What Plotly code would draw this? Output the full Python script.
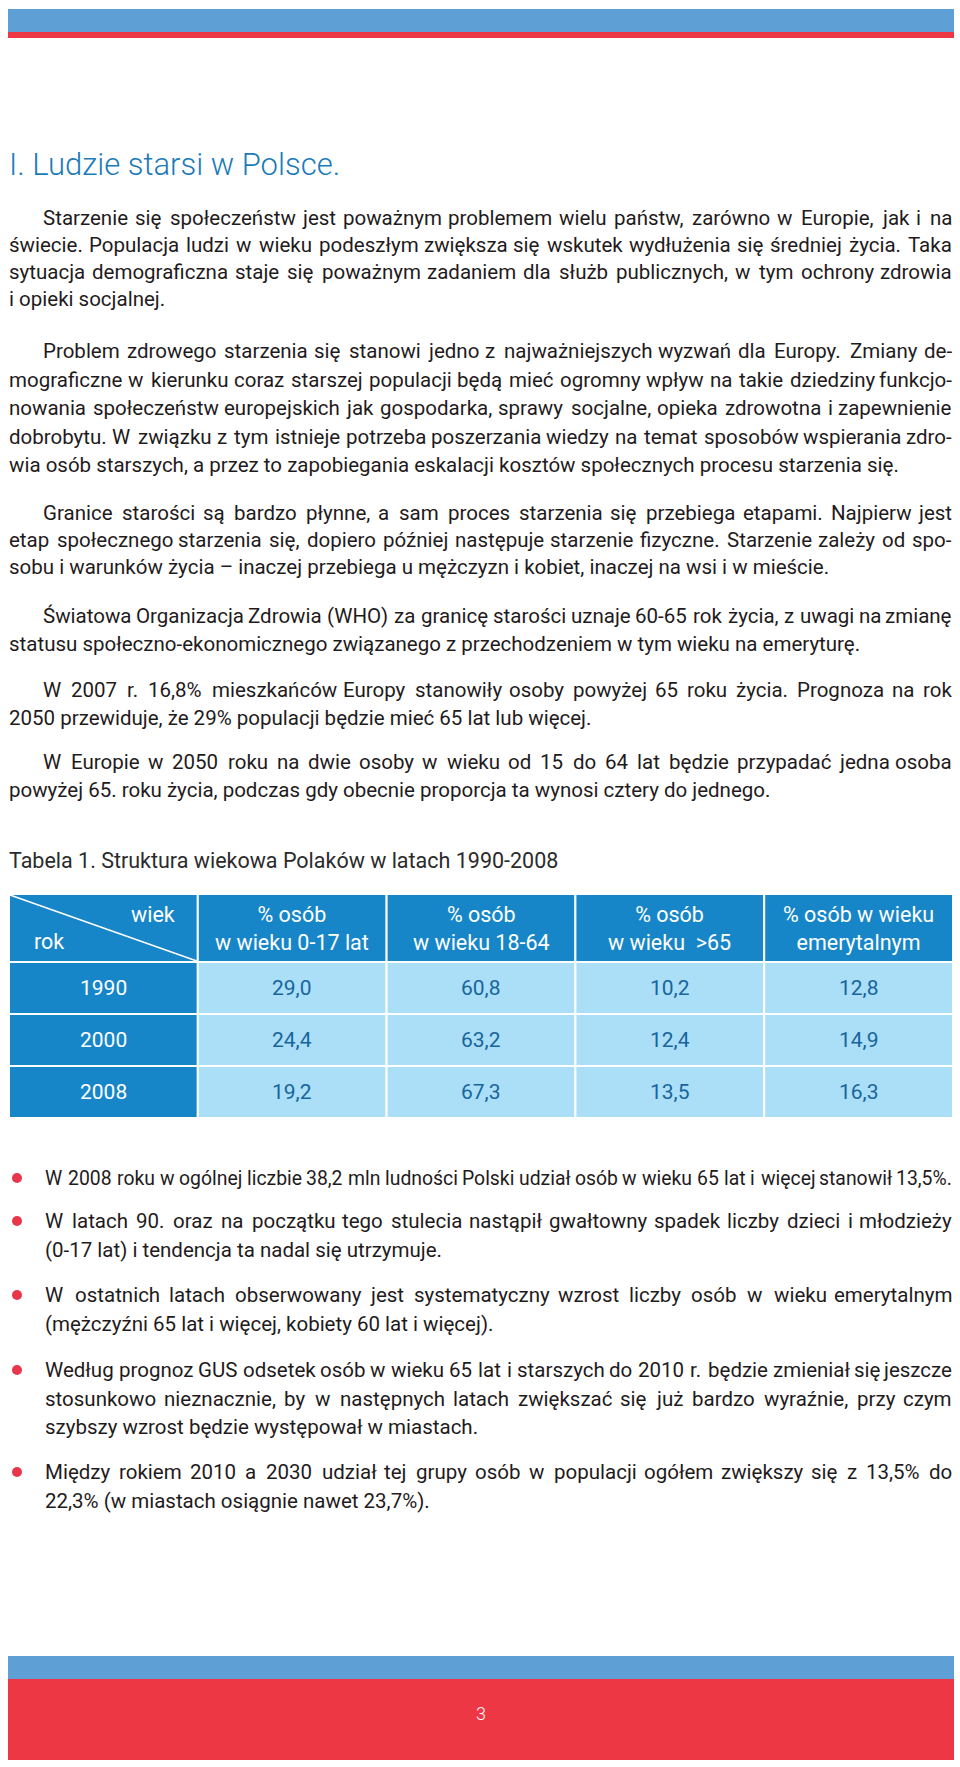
import unicodedata
import plotly.graph_objects as go

# ---------------- data ----------------
title = "I. Ludzie starsi w Polsce."

paragraphs = [
    ["Starzenie się społeczeństw jest poważnym problemem wielu państw, zarówno w Europie, jak i na",
     "świecie. Populacja ludzi w wieku podeszłym zwiększa się wskutek wydłużenia się średniej życia. Taka",
     "sytuacja demograficzna staje się poważnym zadaniem dla służb publicznych, w tym ochrony zdrowia",
     "i opieki socjalnej."],
    ["Problem zdrowego starzenia się stanowi jedno z najważniejszych wyzwań dla Europy. Zmiany de-",
     "mograficzne w kierunku coraz starszej populacji będą mieć ogromny wpływ na takie dziedziny funkcjo-",
     "nowania społeczeństw europejskich jak gospodarka, sprawy socjalne, opieka zdrowotna i zapewnienie",
     "dobrobytu. W związku z tym istnieje potrzeba poszerzania wiedzy na temat sposobów wspierania zdro-",
     "wia osób starszych, a przez to zapobiegania eskalacji kosztów społecznych procesu starzenia się."],
    ["Granice starości są bardzo płynne, a sam proces starzenia się przebiega etapami. Najpierw jest",
     "etap społecznego starzenia się, dopiero później następuje starzenie fizyczne. Starzenie zależy od spo-",
     "sobu i warunków życia – inaczej przebiega u mężczyzn i kobiet, inaczej na wsi i w mieście."],
    ["Światowa Organizacja Zdrowia (WHO) za granicę starości uznaje 60-65 rok życia, z uwagi na zmianę",
     "statusu społeczno-ekonomicznego związanego z przechodzeniem w tym wieku na emeryturę."],
    ["W 2007 r. 16,8% mieszkańców Europy stanowiły osoby powyżej 65 roku życia. Prognoza na rok",
     "2050 przewiduje, że 29% populacji będzie mieć 65 lat lub więcej."],
    ["W Europie w 2050 roku na dwie osoby w wieku od 15 do 64 lat będzie przypadać jedna osoba",
     "powyżej 65. roku życia, podczas gdy obecnie proporcja ta wynosi cztery do jednego."],
]
para_first_y = [218, 351, 513, 616, 690, 762]
para_line_gap = [27.0, 28.5, 27.0, 27.5, 27.5, 27.5]

caption = "Tabela 1. Struktura wiekowa Polaków w latach 1990-2008"
corner_top = "wiek"
corner_bottom = "rok"
col_headers = ["% osób<br>w wieku 0-17 lat", "% osób<br>w wieku 18-64",
               "% osób<br>w wieku  &gt;65", "% osób w wieku<br>emerytalnym"]
years = ["1990", "2000", "2008"]
share_0_17 = [29.0, 24.4, 19.2]
share_18_64 = [60.8, 63.2, 67.3]
share_65 = [10.2, 12.4, 13.5]
share_retired = [12.8, 14.9, 16.3]

bullets = [
    ["W 2008 roku w ogólnej liczbie 38,2 mln ludności Polski udział osób w wieku 65 lat i więcej stanowił 13,5%."],
    ["W latach 90. oraz na początku tego stulecia nastąpił gwałtowny spadek liczby dzieci i młodzieży",
     "(0-17 lat) i tendencja ta nadal się utrzymuje."],
    ["W ostatnich latach obserwowany jest systematyczny wzrost liczby osób w wieku emerytalnym",
     "(mężczyźni 65 lat i więcej, kobiety 60 lat i więcej)."],
    ["Według prognoz GUS odsetek osób w wieku 65 lat i starszych do 2010 r. będzie zmieniał się jeszcze",
     "stosunkowo nieznacznie, by w następnych latach zwiększać się już bardzo wyraźnie, przy czym",
     "szybszy wzrost będzie występował w miastach."],
    ["Między rokiem 2010 a 2030 udział tej grupy osób w populacji ogółem zwiększy się z 13,5% do",
     "22,3% (w miastach osiągnie nawet 23,7%)."],
]
bullet_first_y = [1178, 1221, 1295, 1370, 1472]
page_number = "3"

# ---------------- style ----------------
PAGE_W, PAGE_H = 960, 1767
FONT = "Roboto"
BAR_BLUE = "#5e9fd5"
BAR_RED = "#ee3744"
TITLE_COL = "#1b7bb9"
TEXT_COL = "#1f1b1c"
HEAD_FILL = "#1786c9"
CELL_FILL = "#abdef7"
CELL_TEXT = "#17659c"
DOT_COL = "#e8364a"

LEFT, RIGHT, INDENT = 9, 952, 43
BODY_SIZE = 20.5
BULLET_X, BULLET_TEXT_X = 17, 45
BULLET_GAP = 28.5

# approximate Roboto advance widths (em)
ADV = {" ": 0.248, "a": 0.531, "b": 0.548, "c": 0.511, "d": 0.551, "e": 0.517, "f": 0.339,
       "g": 0.548, "h": 0.538, "i": 0.237, "j": 0.233, "k": 0.496, "l": 0.237, "m": 0.856,
       "n": 0.539, "o": 0.557, "p": 0.548, "q": 0.554, "r": 0.331, "s": 0.503, "t": 0.319,
       "u": 0.538, "v": 0.473, "w": 0.733, "x": 0.483, "y": 0.462, "z": 0.483, "ł": 0.26,
       "A": 0.652, "B": 0.623, "C": 0.651, "D": 0.656, "E": 0.568, "F": 0.553, "G": 0.681,
       "H": 0.713, "I": 0.272, "J": 0.552, "K": 0.627, "L": 0.538, "M": 0.873, "N": 0.713,
       "O": 0.688, "P": 0.631, "Q": 0.688, "R": 0.616, "S": 0.593, "T": 0.596, "U": 0.648,
       "V": 0.636, "W": 0.887, "X": 0.627, "Y": 0.601, "Z": 0.599,
       ".": 0.263, ",": 0.196, ":": 0.242, "-": 0.276, "–": 0.56, "%": 0.733, "(": 0.342,
       ")": 0.348, ">": 0.508}


def em(s):
    tot = 0.0
    for ch in s:
        if ch in ADV:
            tot += ADV[ch]
            continue
        base = unicodedata.normalize("NFD", ch)[0]
        tot += ADV.get(base, 0.5625 if base.isdigit() else 0.52)
    return tot


annotations = []


def add_text(x, y, s, size, color, xanchor="left", family=FONT, weight=None):
    font = dict(family=family, size=size, color=color)
    if weight is not None:
        font["weight"] = weight
    annotations.append(dict(x=x, y=y, xref="x", yref="y", text=s, showarrow=False,
                            xanchor=xanchor, yanchor="middle", borderpad=0, borderwidth=0,
                            font=font))


def place_line(line, x0, x1, y, size, justify):
    words = line.split(" ")
    widths = [em(w) * size for w in words]
    natural = sum(widths) + ADV[" "] * size * (len(words) - 1)
    avail = x1 - x0
    if natural > avail * 0.985:
        k = min(1.0, avail / natural * 0.985)
        size *= k
        widths = [w * k for w in widths]
        justify = True
    if not justify or len(words) == 1:
        add_text(x0, y, line, size, TEXT_COL)
        return
    gap = (avail - sum(widths)) / (len(words) - 1)
    x = x0
    for i, (w, wd) in enumerate(zip(words, widths)):
        if i == len(words) - 1:
            add_text(x1, y, w, size, TEXT_COL, xanchor="right")
        else:
            add_text(x, y, w, size, TEXT_COL)
        x += wd + gap


shapes = []


def rect(x0, y0, x1, y1, fill, lw=0, lc="white"):
    shapes.append(dict(type="rect", xref="x", yref="y", x0=x0, y0=y0, x1=x1, y1=y1,
                       fillcolor=fill, line=dict(width=lw, color=lc), layer="below"))


# header / footer bands
rect(8, 9, 954, 32, BAR_BLUE)
rect(8, 32, 954, 38, BAR_RED)
rect(8, 1656, 954, 1679, BAR_BLUE)
rect(8, 1679, 954, 1760, BAR_RED)
add_text(481, 1713, page_number, 18, "white", xanchor="center", weight=300)

# title
add_text(LEFT, 164, title, 31, TITLE_COL, weight=300)

# paragraphs
for lines, y0, g in zip(paragraphs, para_first_y, para_line_gap):
    for i, line in enumerate(lines):
        x0 = INDENT if i == 0 else LEFT
        place_line(line, x0, RIGHT, y0 + i * g, BODY_SIZE, i < len(lines) - 1)

# table
add_text(LEFT, 860, caption, 21.5, "#2b2b2b")
T_LEFT, T_RIGHT = 9, 953
T_TOP, T_HEAD = 894, 962
ROW_H = 52
n_cols = 1 + len(col_headers)
col_w = (T_RIGHT - T_LEFT) / n_cols
edges = [T_LEFT + i * col_w for i in range(n_cols + 1)]
value_cols = [share_0_17, share_18_64, share_65, share_retired]

for c in range(n_cols):
    rect(edges[c], T_TOP, edges[c + 1], T_HEAD, HEAD_FILL, 2)
    for r in range(len(years)):
        y0 = T_HEAD + r * ROW_H
        rect(edges[c], y0, edges[c + 1], y0 + ROW_H, HEAD_FILL if c == 0 else CELL_FILL, 2)

shapes.append(dict(type="line", xref="x", yref="y", x0=edges[0] + 1, y0=T_TOP + 1,
                   x1=edges[1] - 1, y1=T_HEAD - 1, line=dict(color="white", width=1.5)))
add_text(edges[0] + 144, 914, corner_top, 21.5, "white", xanchor="center")
add_text(edges[0] + 40, 941, corner_bottom, 21.5, "white", xanchor="center")

for c, lab in enumerate(col_headers):
    cx = (edges[c + 1] + edges[c + 2]) / 2
    add_text(cx, (T_TOP + T_HEAD) / 2, lab, 21.5, "white", xanchor="center")

for r, yr in enumerate(years):
    cy = T_HEAD + r * ROW_H + ROW_H / 2
    add_text((edges[0] + edges[1]) / 2, cy, yr, 21, "white", xanchor="center")
    for c, vals in enumerate(value_cols):
        cx = (edges[c + 1] + edges[c + 2]) / 2
        add_text(cx, cy, f"{vals[r]:.1f}".replace(".", ","), 21, CELL_TEXT, xanchor="center")

# bullets
for lines, y0 in zip(bullets, bullet_first_y):
    for i, line in enumerate(lines):
        place_line(line, BULLET_TEXT_X, RIGHT, y0 + i * BULLET_GAP, BODY_SIZE, i < len(lines) - 1)

fig = go.Figure()
fig.add_trace(go.Scatter(x=[BULLET_X] * len(bullets), y=bullet_first_y, mode="markers",
                         marker=dict(size=10, color=DOT_COL), hoverinfo="skip"))

fig.update_layout(
    width=PAGE_W, height=PAGE_H, autosize=False,
    margin=dict(l=0, r=0, t=0, b=0, pad=0),
    paper_bgcolor="white", plot_bgcolor="white", showlegend=False,
    xaxis=dict(range=[0, PAGE_W], visible=False, fixedrange=True),
    yaxis=dict(range=[PAGE_H, 0], visible=False, fixedrange=True),
    shapes=shapes, annotations=annotations,
)

fig.write_html("out.html", config={"displayModeBar": False},
               post_script="document.body.style.margin='0';document.body.style.overflow='hidden';")
